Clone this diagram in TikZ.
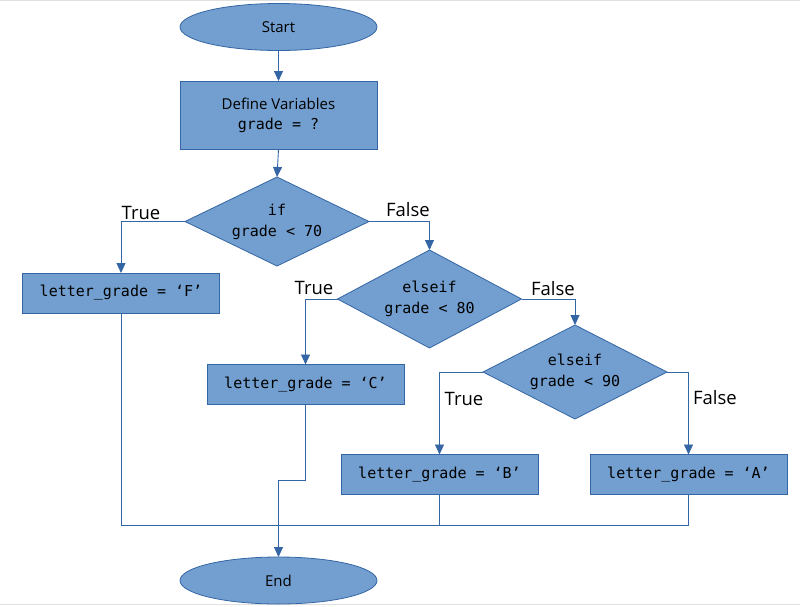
\documentclass[tikz,border=0pt]{standalone}
\usepackage{fontspec}
\setmainfont{Open Sans}
\newfontfamily\codefont{DejaVu Sans Mono}
\usetikzlibrary{shapes.geometric,arrows.meta}
\definecolor{boxfill}{HTML}{729FCF}
\definecolor{boxline}{HTML}{3465A4}
\tikzset{
  base/.style={fill=boxfill,draw=boxline,line width=0.8pt,inner sep=0pt,outer sep=0pt,align=center,text=black},
  term/.style={base,ellipse,minimum width=197pt,minimum height=47pt,font=\fontsize{15}{22}\selectfont},
  proc/.style={base,rectangle,minimum width=197pt,minimum height=#1,font=\fontsize{15}{22}\selectfont},
  proc/.default=40pt,
  cond/.style={base,diamond,aspect=2.2,minimum width=184pt,minimum height=#1,font=\fontsize{15}{21}\selectfont\codefont},
  conn/.style={draw=boxline,line width=0.9pt},
  arr/.style={conn,-{Triangle[length=10pt,width=9pt]}},
  lab/.style={font=\fontsize{18.5}{22}\selectfont,inner sep=0pt,text=black}
}
\begin{document}
\begin{tikzpicture}[x=1pt,y=-1pt]
\useasboundingbox (0,0) rectangle (800,606);
\draw[black!12,line width=0.8pt] (0,0.5) -- (800,0.5);
\draw[black!12,line width=0.8pt] (0,604.5) -- (800,604.5);

\node[term] (start) at (278.5,27) {Start};
\node[proc=68pt] (def) at (278.5,115) {\raisebox{-2pt}{Define Variables}\\{\codefont grade = ?}};
\node[cond=89pt] (d1) at (277,221.5) {if\\grade < 70};
\node[proc,font=\fontsize{15}{22}\selectfont\codefont] (F) at (121,293) {letter\_grade = ‘F’};
\node[cond=98pt] (d2) at (429.5,299) {elseif\\grade < 80};
\node[proc,font=\fontsize{15}{22}\selectfont\codefont] (C) at (305.5,384.5) {letter\_grade = ‘C’};
\node[cond=94pt] (d3) at (575,372) {elseif\\grade < 90};
\node[proc,font=\fontsize{15}{22}\selectfont\codefont] (B) at (439.5,474.5) {letter\_grade = ‘B’};
\node[proc,font=\fontsize{15}{22}\selectfont\codefont] (A) at (688.5,474.5) {letter\_grade = ‘A’};
\node[term] (end) at (278.5,580.5) {End};

\node[lab] (t1) at (141,213) {True};
\node[lab] (f1) at (408,210) {False};
\node[lab] (t2) at (314,288) {True};
\node[lab] (f2) at (553,289) {False};
\node[lab] (t3) at (464,399) {True};
\node[lab] (f3) at (715,398) {False};

\draw[arr] (start) -- (def);
\draw[arr] (def.south) -- (d1.north);
\draw[arr] (d1.west) -| (F.north);
\draw[arr] (d1.east) -| (d2.north);
\draw[arr] (d2.west) -| (C.north);
\draw[arr] (d2.east) -| (d3.north);
\draw[arr] (d3.west) -| (B.north);
\draw[arr] (d3.east) -| (A.north);

\coordinate (cj) at (305.5,480);
\coordinate (mj) at (0,525);
\draw[arr] (C.south) -- (cj) -| (end.north);
\draw[conn] (F.south) -- (F.south |- mj) -- (A.south |- mj) -- (A.south);
\draw[conn] (B.south) -- (B.south |- mj);
\end{tikzpicture}
\end{document}
